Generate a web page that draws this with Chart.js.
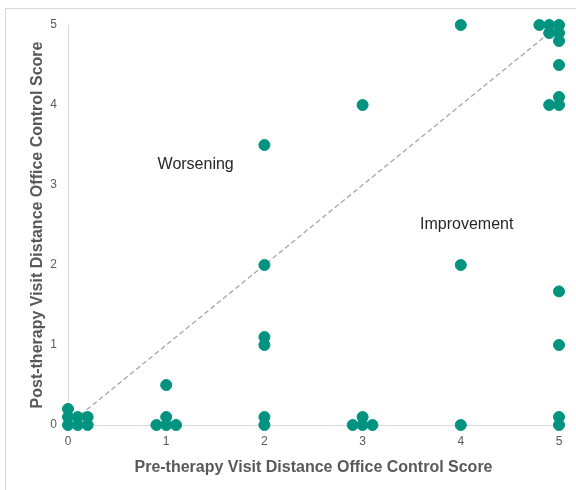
<!DOCTYPE html>
<html>
<head>
<meta charset="utf-8">
<script src="https://cdn.jsdelivr.net/npm/chart.js@4/dist/chart.umd.min.js"></script>
<style>
html,body{margin:0;padding:0;background:#fff;}
#wrap{position:relative;width:576px;height:490px;}
</style>
</head>
<body>
<div id="wrap"><canvas id="c" width="576" height="490"></canvas></div>
<script>
// Pre-therapy score (x) and post-therapy score (y)
const preScores  = [0,0,0,0.1,0.1,0.2,0.2, 0.9,1,1.1,1,1, 2,2,2,2,2,2, 2.9,3,3.1,3,3, 4,4,4, 4.8,4.9,5,4.9,5,5,5,5,4.9,5,5,5,5,5];
const postScores = [0.2,0.1,0,0.1,0,0.1,0, 0,0,0,0.1,0.5, 3.5,2,1.1,1,0.1,0, 0,0,0,0.1,4, 5,2,0, 5,5,5,4.9,4.9,4.8,4.5,4.1,4,4,1.67,1,0.1,0];
const refLineX = [0,5];
const refLineY = [0,5];
const xTicks = [0,1,2,3,4,5];
const yTicks = [0,1,2,3,4,5];
const xTitle = 'Pre-therapy Visit Distance Office Control Score';
const yTitle = 'Post-therapy Visit Distance Office Control Score';
const annotations = [
  {text:'Worsening', x:1.3, y:3.25},
  {text:'Improvement', x:4.06, y:2.51}
];

const scatterData = preScores.map((v,i)=>({x:v,y:postScores[i]}));
const lineData = refLineX.map((v,i)=>({x:v,y:refLineY[i]}));

const textPlugin = {
  id:'textPlugin',
  afterDatasetsDraw(chart){
    const ctx = chart.ctx;
    const xs = chart.scales.x, ys = chart.scales.y;
    ctx.save();
    ctx.font = '16px "Liberation Sans", Arial, sans-serif';
    ctx.fillStyle = '#262626';
    ctx.textAlign = 'center';
    ctx.textBaseline = 'middle';
    annotations.forEach(a=>{
      ctx.fillText(a.text, xs.getPixelForValue(a.x), ys.getPixelForValue(a.y));
    });
    ctx.restore();
  },
  beforeDraw(chart){
    const ctx = chart.ctx;
    ctx.save();
    ctx.strokeStyle = '#d9d9d9';
    ctx.lineWidth = 1;
    ctx.beginPath();
    ctx.moveTo(5.5, 490);
    ctx.lineTo(5.5, 8.5);
    ctx.lineTo(576, 8.5);
    ctx.stroke();
    ctx.restore();
  }
};

new Chart(document.getElementById('c'), {
  data:{
    datasets:[
      {
        type:'line',
        data:lineData,
        borderColor:'#a6a6a6',
        borderWidth:1.3,
        borderDash:[5,3],
        pointRadius:0,
        fill:false,
        clip:false,
        order:2
      },
      {
        type:'scatter',
        data:scatterData,
        backgroundColor:'#009480',
        borderColor:'#009480',
        pointRadius:5.5,
        pointHoverRadius:5.5,
        clip:false,
        order:1
      }
    ]
  },
  options:{
    responsive:false,
    animation:false,
    devicePixelRatio:1,
    layout:{padding:{left:24,right:17,top:25,bottom:9}},
    plugins:{legend:{display:false},tooltip:{enabled:false}},
    scales:{
      x:{
        type:'linear',
        min:0,max:5,
        afterBuildTicks(s){ s.ticks = xTicks.map(v=>({value:v})); },
        afterFit(s){ s.height = 56; },
        grid:{display:false},
        border:{display:true,color:'#d9d9d9',width:1},
        ticks:{color:'#595959',font:{family:'"Liberation Sans", Arial, sans-serif',size:12},padding:1},
        title:{display:true,text:xTitle,color:'#595959',font:{family:'"Liberation Sans", Arial, sans-serif',size:16,weight:'bold'},padding:{top:4}}
      },
      y:{
        type:'linear',
        min:0,max:5,
        afterBuildTicks(s){ s.ticks = yTicks.map(v=>({value:v})); },
        afterFit(s){ s.width = 44; },
        grid:{display:false},
        border:{display:true,color:'#d9d9d9',width:1},
        ticks:{color:'#595959',font:{family:'"Liberation Sans", Arial, sans-serif',size:12},padding:3},
        title:{display:true,text:yTitle,color:'#595959',font:{family:'"Liberation Sans", Arial, sans-serif',size:16,weight:'bold'},padding:{bottom:4}}
      }
    }
  },
  plugins:[textPlugin]
});
</script>
</body>
</html>
